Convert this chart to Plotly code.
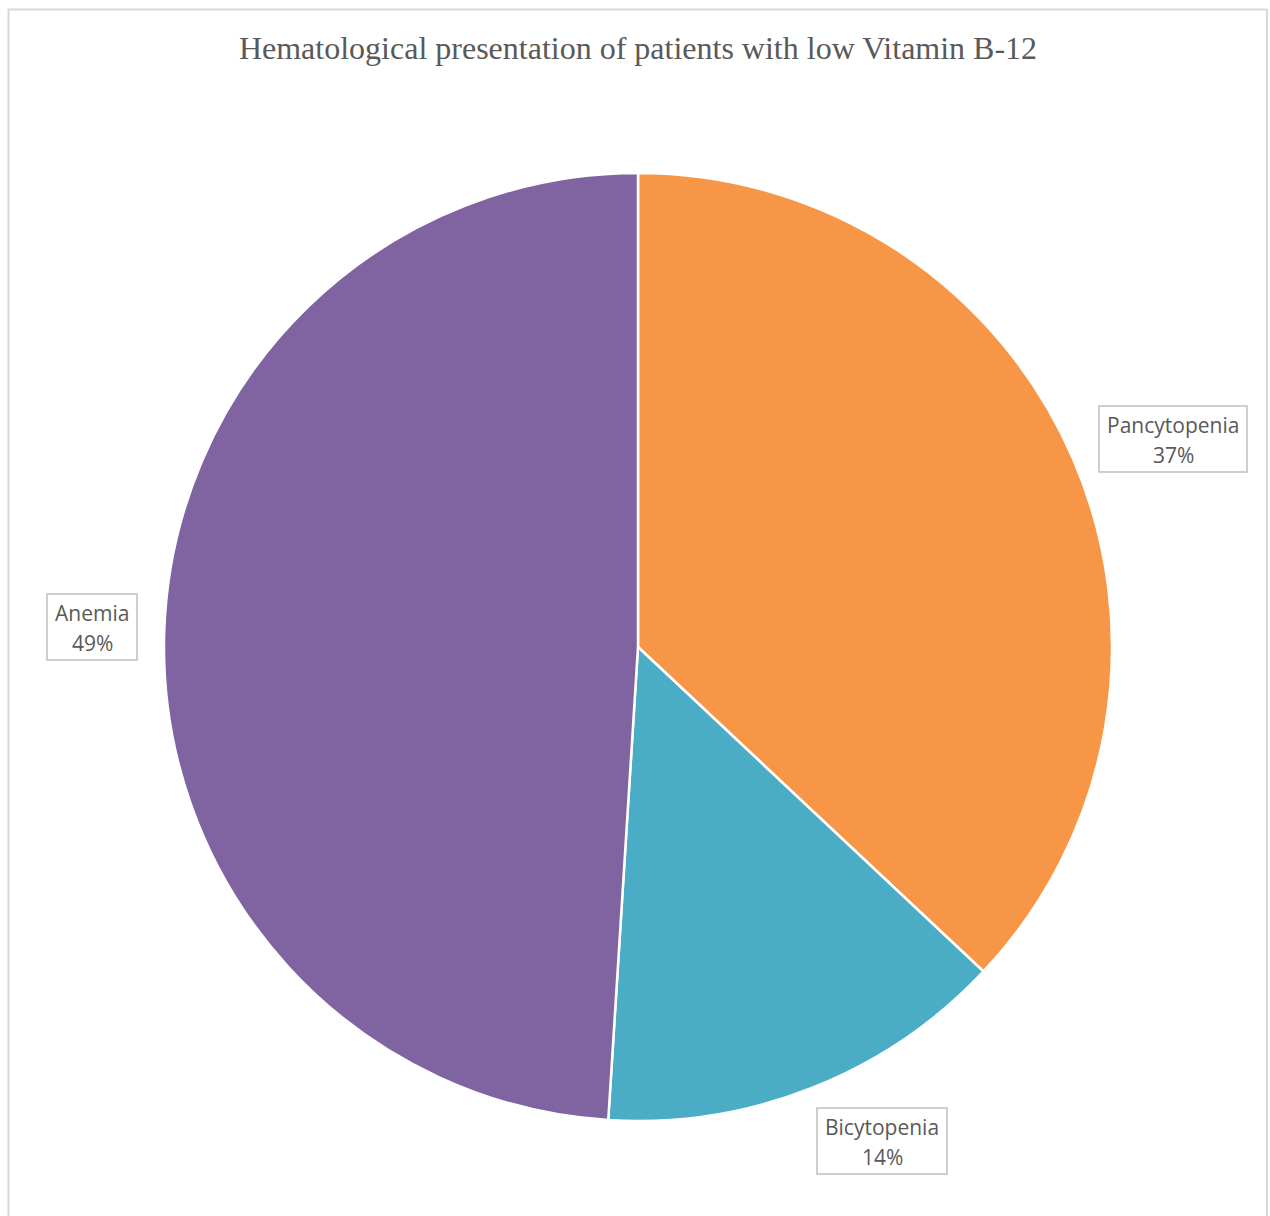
import plotly.graph_objects as go

# Hematological presentation data
categories = ["Pancytopenia", "Bicytopenia", "Anemia"]
percentages = [37, 14, 49]
colors = ["#F79646", "#4BACC6", "#8064A2"]

W, H = 1270, 1216

def px(x):
    return x / W

def py(y):
    return 1 - y / H

fig = go.Figure()
fig.add_trace(go.Pie(
    labels=categories,
    values=percentages,
    sort=False,
    direction="clockwise",
    rotation=0,
    marker=dict(colors=colors, line=dict(color="white", width=2.5)),
    textinfo="none",
    hoverinfo="label+percent",
    showlegend=False,
    domain=dict(x=[px(164), px(1112)], y=[py(1121), py(173)]),
))

# Boxed data labels: box center (px), box width, box height
label_pos = {
    "Pancytopenia": (1173, 439, 148, 66),
    "Bicytopenia": (882, 1141, 130, 66),
    "Anemia": (92, 627, 90, 66),
}
label_font = dict(family="Open Sans", size=21, color="#595959")
for name, val in zip(categories, percentages):
    cx, cy, bw, bh = label_pos[name]
    fig.add_shape(
        type="rect", xref="paper", yref="paper",
        x0=px(cx - bw / 2), x1=px(cx + bw / 2),
        y0=py(cy + bh / 2), y1=py(cy - bh / 2),
        line=dict(color="#BFBFBF", width=1.5), fillcolor="white",
    )
    for line_text, dy in ((name, -14), (f"{val}%", 16)):
        fig.add_annotation(
            x=px(cx), y=py(cy + dy), xref="paper", yref="paper",
            xanchor="center", yanchor="middle",
            text=line_text, showarrow=False, font=label_font,
        )

# Chart area border
fig.add_shape(
    type="rect", xref="paper", yref="paper",
    x0=px(8.5), x1=px(1267), y0=-0.02, y1=py(9.5),
    line=dict(color="#D9D9D9", width=2), fillcolor="rgba(0,0,0,0)",
    layer="below",
)

fig.update_layout(
    width=W, height=H,
    margin=dict(l=0, r=0, t=0, b=0),
    paper_bgcolor="white",
    plot_bgcolor="white",
    title=dict(
        text="Hematological presentation of patients with low Vitamin B-12",
        x=px(638), xanchor="center", y=py(48), yanchor="middle",
        font=dict(family="Liberation Serif", size=32, color="#595959"),
    ),
)

fig.write_html("out.html")
